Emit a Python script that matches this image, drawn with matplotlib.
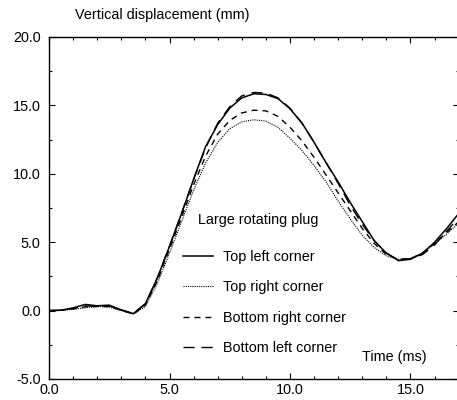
import matplotlib
matplotlib.use('Agg')
import matplotlib.pyplot as plt
from matplotlib.ticker import MultipleLocator, FormatStrFormatter

plt.rcParams['font.family'] = ['Liberation Sans', 'DejaVu Sans']

# time axis (ms)
time_ms = [0, 0.5, 1, 1.5, 2, 2.5, 3, 3.5, 4, 4.5, 5, 5.5, 6, 6.5, 7, 7.5, 8, 8.5,
           9, 9.5, 10, 10.5, 11, 11.5, 12, 12.5, 13, 13.5, 14, 14.5, 15, 15.5, 16, 16.5, 17]

# vertical displacement (mm) for each corner
top_left = [0, 0.03, 0.2, 0.45, 0.35, 0.4, 0.05, -0.22, 0.5, 2.4, 4.7, 7.1, 9.6, 12.0, 13.6, 14.8,
            15.55, 15.85, 15.8, 15.5, 14.75, 13.7, 12.3, 10.8, 9.4, 7.9, 6.5, 5.1, 4.2, 3.65, 3.75,
            4.2, 5.0, 6.0, 7.1]
top_right = [0, 0.02, 0.1, 0.2, 0.3, 0.25, 0.0, -0.25, 0.3, 2.0, 4.2, 6.5, 8.8, 10.8, 12.3, 13.3,
             13.8, 13.95, 13.85, 13.4, 12.6, 11.7, 10.6, 9.4, 8.0, 6.7, 5.5, 4.6, 4.0, 3.75, 3.8,
             4.2, 4.9, 5.6, 6.4]
bottom_right = [0, 0.02, 0.12, 0.28, 0.3, 0.3, 0.02, -0.25, 0.4, 2.2, 4.5, 6.8, 9.2, 11.3, 12.9, 13.9,
                14.45, 14.65, 14.6, 14.2, 13.4, 12.4, 11.2, 9.9, 8.6, 7.3, 6.0, 4.9, 4.1, 3.75, 3.8,
                4.2, 4.9, 5.7, 6.5]
bottom_left = [0, 0.02, 0.15, 0.35, 0.3, 0.35, 0.05, -0.22, 0.5, 2.4, 4.7, 7.1, 9.6, 11.9, 13.7, 14.9,
               15.7, 15.95, 15.9, 15.55, 14.8, 13.7, 12.3, 10.8, 9.3, 7.7, 6.3, 5.1, 4.2, 3.7, 3.8,
               4.1, 4.8, 5.8, 6.8]

labels = ['Top left corner', 'Top right corner', 'Bottom right corner', 'Bottom left corner']

fs = 10.4
fig = plt.figure(figsize=(4.57, 4.0), dpi=100)
ax = fig.add_axes([49/457, 21/400, 409.7/457, 342/400])

ax.plot(time_ms, top_left, 'k', lw=1.1, solid_joinstyle='round', label=labels[0])
ax.plot(time_ms, top_right, 'k', lw=0.8, dashes=(1, 1), label=labels[1])
ax.plot(time_ms, bottom_right, 'k', lw=1.0, dashes=(4.3, 3.6), label=labels[2])
ax.plot(time_ms, bottom_left, 'k', lw=1.0, dashes=(8, 5), label=labels[3])

ax.set_xlim(0, 17)
ax.set_ylim(-5, 20)
ax.xaxis.set_major_locator(MultipleLocator(5))
ax.xaxis.set_minor_locator(MultipleLocator(1))
ax.yaxis.set_major_locator(MultipleLocator(5))
ax.yaxis.set_minor_locator(MultipleLocator(2.5))
ax.xaxis.set_major_formatter(FormatStrFormatter('%.1f'))
ax.yaxis.set_major_formatter(FormatStrFormatter('%.1f'))
ax.tick_params(which='both', direction='in', top=True, right=True, labelsize=fs, width=0.8)
ax.tick_params(which='major', length=4)
ax.tick_params(which='minor', length=2.5)
ax.tick_params(axis='x', which='major', pad=3)
ax.tick_params(axis='y', which='major', pad=6)
for s in ax.spines.values():
    s.set_linewidth(1.0)

fig.text(75/457, 1 - 15/400, 'Vertical displacement (mm)', fontsize=fs, va='center', ha='left')
ax.text(15.65, -3.4, 'Time (ms)', fontsize=fs, ha='right', va='center')
ax.text(6.2, 6.6, 'Large rotating plug', fontsize=fs, ha='left', va='center')

leg = ax.legend(loc='upper left', bbox_to_anchor=((183 - 49) / 409.7, 1 - (250 - 37) / 342),
                bbox_transform=ax.transAxes, frameon=False, fontsize=fs,
                handlelength=2.05, handletextpad=0.7, labelspacing=1.14, borderpad=0, borderaxespad=0)

plt.savefig('out.png', dpi=100)
